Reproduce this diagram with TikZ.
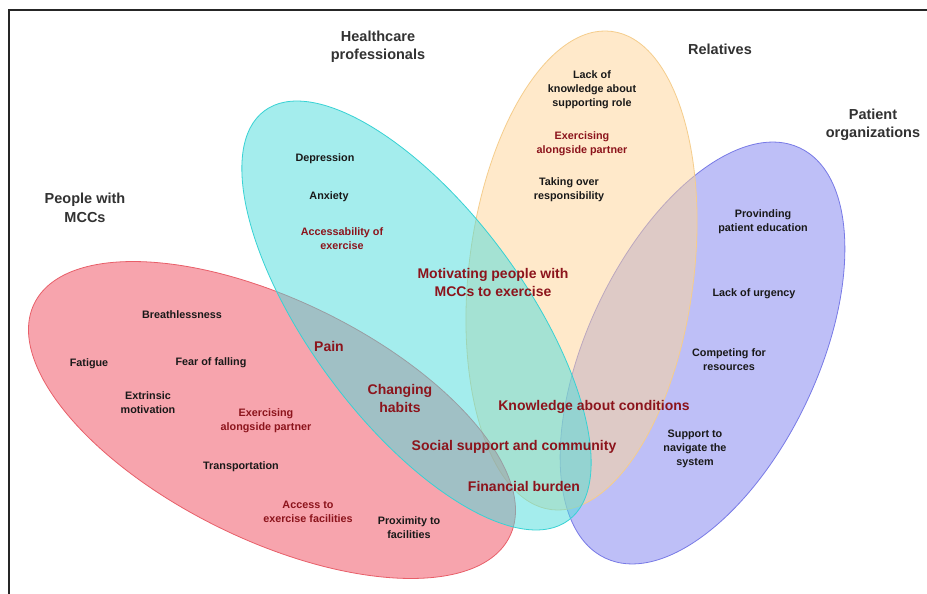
\documentclass[tikz,border=0pt]{standalone}
\usepackage{fontspec}
\setmainfont{Liberation Sans}
\begin{document}
\begin{tikzpicture}[x=1pt,y=-1pt,
  every node/.style={yshift=-1.6pt},
  ttl/.style={font=\fontsize{14.5}{18.5}\selectfont\bfseries, text=titlegray, align=center, inner sep=0pt},
  itm/.style={font=\fontsize{10.8}{14}\selectfont\bfseries, text=itemblack, align=center, inner sep=0pt},
  ritm/.style={font=\fontsize{10.8}{14}\selectfont\bfseries, text=darkred, align=center, inner sep=0pt},
  big/.style={font=\fontsize{14}{17.5}\selectfont\bfseries, text=darkred, align=center, inner sep=0pt},
  venn/.style={fill opacity=0.5, line width=0.8pt}]
\definecolor{titlegray}{RGB}{50,50,50}
\definecolor{itemblack}{RGB}{25,25,25}
\definecolor{darkred}{RGB}{140,20,28}
\definecolor{redfill}{RGB}{241,75,93}
\definecolor{cyanfill}{RGB}{75,221,221}
\definecolor{yellowfill}{RGB}{255,213,151}
\definecolor{bluefill}{RGB}{127,129,241}
\definecolor{redline}{RGB}{232,95,105}
\definecolor{cyanline}{RGB}{55,210,212}
\definecolor{yellowline}{RGB}{245,205,140}
\definecolor{blueline}{RGB}{120,122,230}
\useasboundingbox (0,0) rectangle (927,594);
\fill[white] (0,0) rectangle (927,594);
% frame
\draw[line width=1.5pt, black!85] (9,594) -- (9,10) -- (927,10);
% ellipses
\filldraw[venn, fill=bluefill, draw=blueline, shift={(702.5,353)}, rotate=64.6] (0,0) ellipse [x radius=227pt, y radius=115pt];
\filldraw[venn, fill=yellowfill, draw=yellowline, shift={(581.5,270.5)}, rotate=82.8] (0,0) ellipse [x radius=241pt, y radius=112.4pt];
\filldraw[venn, fill=redfill, draw=redline, shift={(272,420)}, rotate=-26.1] (0,0) ellipse [x radius=264.7pt, y radius=119.7pt];
\filldraw[venn, fill=cyanfill, draw=cyanline, shift={(416.5,315.5)}, rotate=-53.4] (0,0) ellipse [x radius=255pt, y radius=107pt];
% titles
\node[ttl] (thp) at (378,45) {Healthcare\\professionals};
\node[ttl] (trel) at (720,48) {Relatives};
\node[ttl] (tpo) at (873,123) {Patient\\organizations};
\node[ttl] (tppl) at (85,206) {People with\\MCCs};
% healthcare professionals
\node[itm] (dep) at (325,157) {Depression};
\node[itm] (anx) at (329,195) {Anxiety};
\node[ritm] (acc) at (342,237) {Accessability of\\exercise};
% relatives
\node[itm] (lack) at (592,88) {Lack of\\knowledge about\\supporting role};
\node[ritm] (exr) at (582,142) {Exercising\\alongside partner};
\node[itm] (take) at (569,188) {Taking over\\responsibility};
% patient organizations
\node[itm] (prov) at (763,220) {Provinding\\patient education};
\node[itm] (urg) at (754,292) {Lack of urgency};
\node[itm] (comp) at (729,358) {Competing for\\resources};
\node[itm] (nav) at (695,447) {Support to\\navigate the\\system};
% people with MCCs
\node[itm] (breath) at (182,313) {Breathlessness};
\node[itm] (fat) at (89,362) {Fatigue};
\node[itm] (fear) at (211,361) {Fear of falling};
\node[itm] (extr) at (148,401) {Extrinsic\\motivation};
\node[ritm] (exp) at (266,419) {Exercising\\alongside partner};
\node[itm] (trans) at (241,465) {Transportation};
\node[ritm] (accf) at (308,510) {Access to\\exercise facilities};
\node[itm] (prox) at (409,526) {Proximity to\\facilities};
% shared themes
\node[big] (mot) at (493,281) {Motivating people with\\MCCs to exercise};
\node[big] (pain) at (329,345) {Pain};
\node[big] (chg) at (400,397) {Changing\\habits};
\node[big] (know) at (594,405) {Knowledge about conditions};
\node[big] (soc) at (514,445) {Social support and community};
\node[big] (fin) at (524,485) {Financial burden};
\end{tikzpicture}
\end{document}
